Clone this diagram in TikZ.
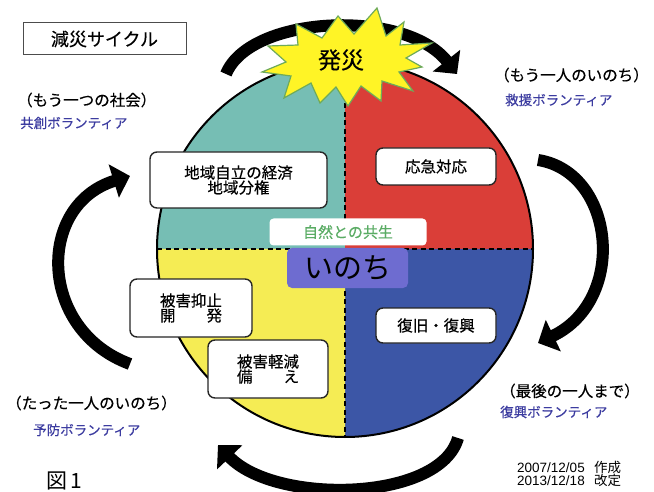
\documentclass[tikz,border=0pt]{standalone}
\usepackage{fontspec}
\newfontfamily\jp{Noto Sans CJK JP}[FakeBold=0.35]
\newfontfamily\jpl{Noto Sans CJK JP}
\newfontfamily\lat{Liberation Sans}
\usetikzlibrary{arrows.meta}
\definecolor{teal1}{RGB}{118,190,180}
\definecolor{red1}{RGB}{218,62,56}
\definecolor{yel1}{RGB}{245,236,84}
\definecolor{blu1}{RGB}{60,86,166}
\definecolor{purp1}{RGB}{110,108,208}
\definecolor{grn1}{RGB}{90,172,100}
\definecolor{vol}{RGB}{60,60,160}
\definecolor{burstline}{RGB}{110,170,90}
\tikzset{
  infobox/.style={draw=black!85, line width=1.4pt, fill=white, rounded corners=7pt, font=\jp\fontsize{15.5}{17}\selectfont, align=center, inner sep=0pt},
  divider/.style={line width=2.6pt, dash pattern=on 5pt off 3.5pt},
  cyc/.style={line width=12pt, -{Triangle[length=17pt, width=34pt]}},
  label1/.style={font=\jp\fontsize{15.5}{18}\selectfont, anchor=west, inner sep=0pt},
  vollabel/.style={font=\jp\fontsize{13.5}{16}\selectfont, text=vol, anchor=west, inner sep=0pt},
}
\begin{document}
\begin{tikzpicture}[x=1pt,y=-1pt]
\useasboundingbox (0,0) rectangle (654,492);
\coordinate (c) at (345,249);
% quadrants
\fill[teal1] (c) -- ++(-188,0) arc[start angle=180, end angle=270, radius=188] -- cycle;
\fill[red1] (c) -- ++(0,-188) arc[start angle=270, end angle=360, radius=188] -- cycle;
\fill[blu1] (c) -- ++(188,0) arc[start angle=0, end angle=90, radius=188] -- cycle;
\fill[yel1] (c) -- ++(0,188) arc[start angle=90, end angle=180, radius=188] -- cycle;
\draw[divider] (157,249) -- (533,249);
\draw[divider] (345,61) -- (345,437);
\draw[line width=2pt] (c) circle[radius=188];
% cycle arrows
\coordinate (a1s) at (226,74);
\coordinate (a1e) at (457,74);
\draw[cyc] (a1s) .. controls (250,15) and (405,8) .. (a1e);
\coordinate (a2s) at (538,160);
\coordinate (a2e) at (538,343);
\draw[cyc] (a2s) .. controls (615,172) and (628,300) .. (a2e);
\coordinate (a3s) at (458,438);
\coordinate (a3e) at (218,445);
\draw[cyc] (a3s) .. controls (440,502) and (275,505) .. (a3e);
\coordinate (a4s) at (130,364);
\coordinate (a4e) at (130,176);
\draw[cyc] (a4s) .. controls (38,330) and (36,205) .. (a4e);
% burst
\filldraw[fill=yellow!85!white, draw=burstline, line width=1.2pt]
  (377,8) -- (386,36) -- (404,22) -- (400,45) -- (432,43) -- (406,58) -- (422,67) -- (399,72)
  -- (413,91) -- (382,81) -- (381,101) -- (361,86) -- (348,106) -- (336,87) -- (320,103)
  -- (311,83) -- (284,98) -- (291,76) -- (262,72) -- (286,62) -- (268,46) -- (298,45)
  -- (296,24) -- (322,38) -- (338,16) -- (354,34) -- cycle;
\node[font=\jp\fontsize{23}{26}\selectfont, inner sep=0pt] (hassai) at (341,60) {発災};
% boxes
\node[infobox, minimum width=177pt, minimum height=56pt] (b1) at (238.5,180) {地域自立の経済\\[-2pt]地域分権};
\node[infobox, minimum width=120pt, minimum height=37pt] (b2) at (436,166.5) {応急対応};
\node[infobox, minimum width=120pt, minimum height=35pt] (b3) at (436,325.5) {復旧・復興};
\node[infobox, minimum width=122pt, minimum height=58pt] (b4) at (191,308) {被害抑止\\[-2pt]開\hspace{2em}発};
\node[infobox, minimum width=120pt, minimum height=58pt] (b5) at (268,369) {被害軽減\\[-2pt]備\hspace{2em}え};
% centre labels
\node[fill=white, rounded corners=4pt, minimum width=157pt, minimum height=27pt, inner sep=0pt,
  font=\jp\fontsize{15}{17}\selectfont, text=grn1] (kyosei) at (348,232) {自然との共生};
\node[fill=purp1, rounded corners=5pt, minimum width=121pt, minimum height=40pt, inner sep=0pt,
  font=\jpl\fontsize{29}{30}\selectfont] (inochi) at (347.5,268) {いのち};
% title
\node[draw=black!70, line width=1pt, minimum width=163pt, minimum height=32pt, inner sep=0pt,
  font=\jp\fontsize{18}{20}\selectfont] (title) at (104.5,39) {減災サイクル};
% side labels
\node[label1] (l1) at (17,100) {（もう一つの社会）};
\node[vollabel] (v1) at (20,123) {共創ボランティア};
\node[label1] (l2) at (494,75) {（もう一人のいのち）};
\node[vollabel] (v2) at (505,100) {救援ボランティア};
\node[label1] (l3) at (500,391) {（最後の一人まで）};
\node[vollabel] (v3) at (500,412) {復興ボランティア};
\node[label1] (l4) at (6,403) {（たった一人のいのち）};
\node[vollabel] (v4) at (33,430) {予防ボランティア};
\node[font=\jpl\fontsize{21}{24}\selectfont, anchor=west, inner sep=0pt] (fig) at (46,481) {図\,1};
\node[font=\fontsize{13.5}{15}\selectfont, anchor=west, inner sep=0pt, align=left] (dates) at (517,474)
  {{\lat 2007/12/05}\hspace{0.7em}{\jpl 作成}\\[-1.5pt]{\lat 2013/12/18}\hspace{0.7em}{\jpl 改定}};
\end{tikzpicture}
\end{document}
